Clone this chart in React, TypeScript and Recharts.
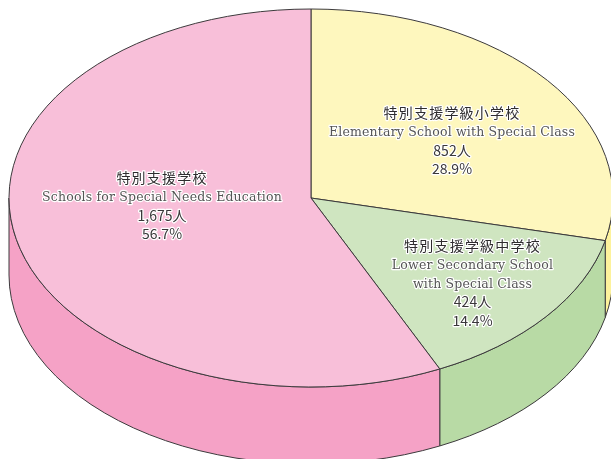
import React from "react";
import { PieChart, Pie } from "recharts";

const categoriesJa = ["特別支援学級小学校", "特別支援学級中学校", "特別支援学校"];
const categoriesEn = [
  ["Elementary School with Special Class"],
  ["Lower Secondary School", "with Special Class"],
  ["Schools for Special Needs Education"],
];
const counts = [852, 424, 1675];
const countLabels = ["852人", "424人", "1,675人"];
const percentLabels = ["28.9%", "14.4%", "56.7%"];
const topColors = ["#FEF7BE", "#CFE5C0", "#F8BFD9"];
const wallColors = ["#FDF29C", "#B8DAA5", "#F5A2C6"];

const STROKE = "#3c3a3c";
const SQUASH = 189 / 302;
const DEPTH = 77;
const CX = 311;
const CY = 198;
const R = 302;
const SKEW = 0.9;
const labelCenters = [
  { x: 452, y: 112.5 },
  { x: 472.5, y: 245.5 },
  { x: 162, y: 177.5 },
];

const rad = (a: number) => (a * Math.PI) / 180;
const fix = (a: number) => (Math.abs(a - 90) < 0.01 || Math.abs(a + 270) < 0.01 ? a : a + SKEW);
const pt = (cx: number, cy: number, r: number, a: number, dy = 0) =>
  `${cx + r * Math.cos(rad(a))} ${cy - r * SQUASH * Math.sin(rad(a)) + dy}`;

function TopSlice(p: any) {
  const { cx, cy, outerRadius: r, fill } = p;
  const s = fix(p.startAngle);
  const e = fix(p.endAngle);
  const large = Math.abs(s - e) > 180 ? 1 : 0;
  const d = `M${cx} ${cy}L${pt(cx, cy, r, s)}A${r} ${r * SQUASH} 0 ${large} 1 ${pt(cx, cy, r, e)}Z`;
  return <path d={d} fill={fill} stroke={STROKE} strokeWidth={1} strokeLinejoin="round" />;
}

function WallSlice(p: any) {
  const { cx, cy, outerRadius: r, fill } = p;
  const a0 = Math.min(fix(p.startAngle), 0);
  const a1 = Math.max(fix(p.endAngle), -180);
  if (a0 <= a1) return <g />;
  const ry = r * SQUASH;
  const d =
    `M${pt(cx, cy, r, a0)}A${r} ${ry} 0 0 1 ${pt(cx, cy, r, a1)}` +
    `L${pt(cx, cy, r, a1, DEPTH)}A${r} ${ry} 0 0 0 ${pt(cx, cy, r, a0, DEPTH)}Z`;
  return <path d={d} fill={fill} stroke={STROKE} strokeWidth={1} strokeLinejoin="round" />;
}

const haloBase: any = {
  textAnchor: "middle",
  dominantBaseline: "central",
  paintOrder: "stroke",
  stroke: "#ffffff",
  strokeWidth: 2.4,
  strokeLinejoin: "round",
};

function SliceLabel(p: any) {
  const i = p.index as number;
  const c = labelCenters[i];
  const en = categoriesEn[i];
  const rows = [
    { t: categoriesJa[i], font: "'Noto Sans CJK JP'", size: 14, ls: 1.2, fill: "#2e2c2e", dy: -1 },
    ...en.map((t) => ({ t, font: "'DejaVu Serif'", size: 12.5, ls: 0.17, fill: "#555555", dy: 0 })),
    { t: countLabels[i], font: "'Noto Sans CJK JP'", size: 14, ls: 0, fill: "#3a383a", dy: -0.5 },
    { t: percentLabels[i], font: "'Noto Sans CJK JP'", size: 14, ls: 0, fill: "#3a383a", dy: -0.5 },
  ];
  return (
    <g>
      {rows.map((r, k) => (
        <text
          key={k}
          x={c.x}
          y={c.y + k * 18.8 + r.dy}
          {...haloBase}
          fontFamily={r.font}
          fontSize={r.size}
          letterSpacing={r.ls}
          fill={r.fill}
        >
          {r.t}
        </text>
      ))}
    </g>
  );
}

const topData = counts.map((value, i) => ({ name: categoriesJa[i], value, fill: topColors[i] }));
const wallData = counts.map((value, i) => ({ name: categoriesJa[i], value, fill: wallColors[i] }));

export default function App() {
  return (
    <div style={{ position: "fixed", left: 0, top: 0, width: 611, height: 459 }}>
      <style>{"html,body{margin:0;padding:0;overflow:hidden}"}</style>
      <PieChart width={611} height={459} margin={{ top: 0, right: 0, bottom: 0, left: 0 }}>
        <Pie
          data={wallData}
          dataKey="value"
          cx={CX}
          cy={CY}
          outerRadius={R}
          innerRadius={0}
          startAngle={90}
          endAngle={-270}
          isAnimationActive={false}
          shape={WallSlice}
          stroke="none"
        />
        <Pie
          data={topData}
          dataKey="value"
          cx={CX}
          cy={CY}
          outerRadius={R}
          innerRadius={0}
          startAngle={90}
          endAngle={-270}
          isAnimationActive={false}
          shape={TopSlice}
          label={SliceLabel}
          labelLine={false}
        />
      </PieChart>
    </div>
  );
}
